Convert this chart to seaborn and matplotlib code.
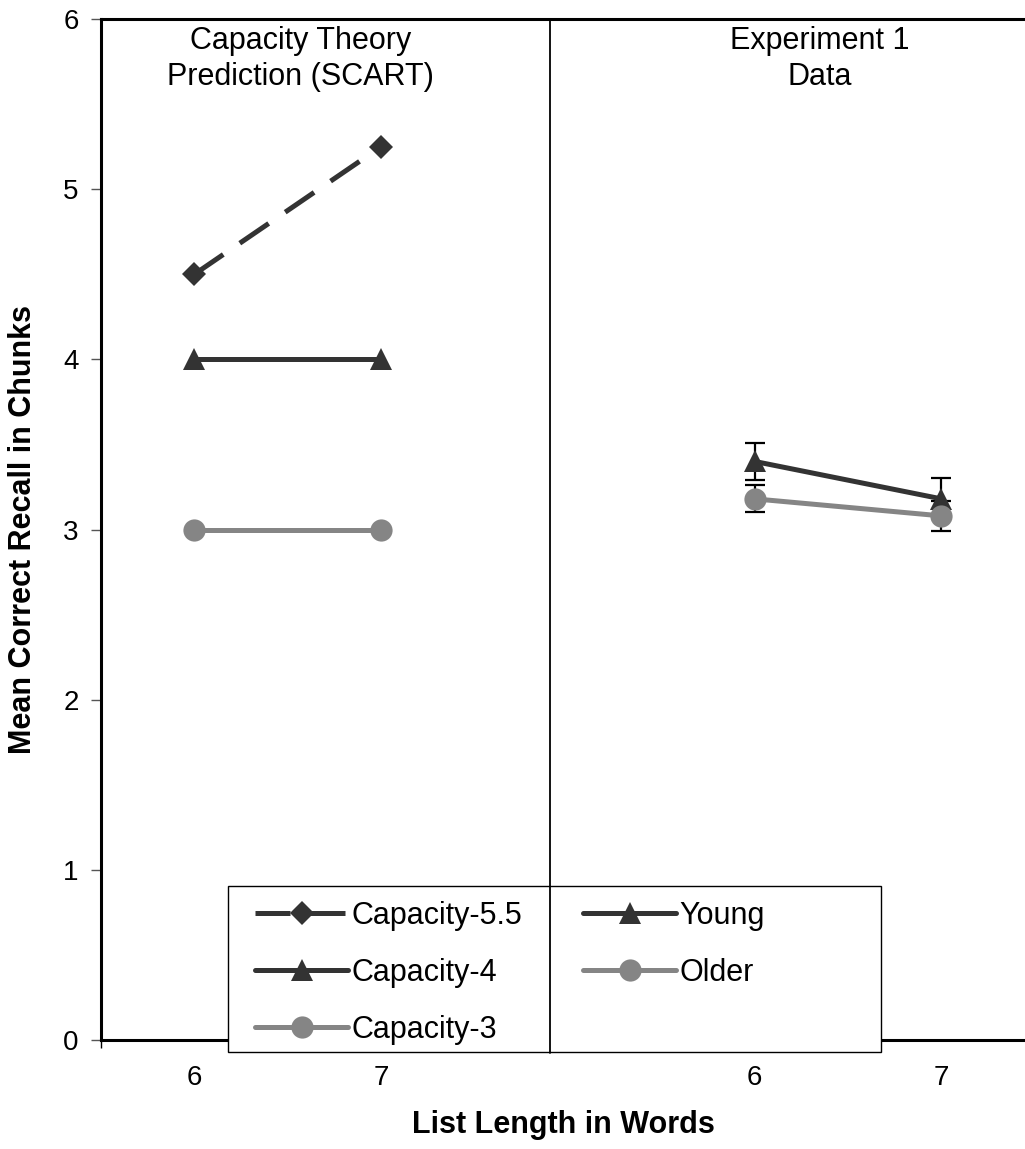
import matplotlib
matplotlib.use("Agg")
import matplotlib.pyplot as plt
from matplotlib.patches import Rectangle
import seaborn as sns
import pandas as pd

# ---- data ----
list_lengths = [6, 7]
cap55 = [4.5, 5.25]
cap4 = [4.0, 4.0]
cap3 = [3.0, 3.0]
young = [3.40, 3.18]
young_err = [0.11, 0.12]
older = [3.18, 3.08]
older_err = [0.08, 0.09]
panel_titles = ["Capacity Theory\nPrediction (SCART)", "Experiment 1\nData"]

# ---- layout (positions of the two panels on a shared axis) ----
left_pos = [1, 2]
right_pos = [4, 5]
divider = 2.906

sns.set_theme(style="white")
plt.rcParams["font.family"] = ["Liberation Sans", "DejaVu Sans"]
plt.rcParams["text.color"] = "black"
plt.rcParams["axes.labelcolor"] = "black"
plt.rcParams["xtick.color"] = "black"
plt.rcParams["ytick.color"] = "black"

W, H = 1025, 1149
fig = plt.figure(figsize=(W / 100, H / 100), dpi=100)
ax = fig.add_axes([101 / W, 1 - 1040 / H, 1 - 101 / W, 1021 / H])

dark = "#333333"
gray = "#858585"
lw = 3.6

df_left = pd.DataFrame({"x": left_pos, "c55": cap55, "c4": cap4, "c3": cap3})
df_right = pd.DataFrame({"x": right_pos, "young": young, "older": older,
                         "yerr": young_err, "oerr": older_err})

sns.lineplot(data=df_left, x="x", y="c55", ax=ax, color=dark, lw=lw,
             marker="D", markersize=12, markeredgewidth=0,
             label="Capacity-5.5", zorder=3)
ax.lines[-1].set_dashes((7, 4))
sns.lineplot(data=df_left, x="x", y="c4", ax=ax, color=dark, lw=lw,
             marker="^", markersize=16, markeredgewidth=0,
             label="Capacity-4", zorder=3)
sns.lineplot(data=df_left, x="x", y="c3", ax=ax, color=gray, lw=lw,
             marker="o", markersize=16, markeredgewidth=0,
             label="Capacity-3", zorder=3)

ax.errorbar(df_right["x"], df_right["young"], yerr=df_right["yerr"], fmt="none",
            ecolor="black", elinewidth=1.6, capsize=7, capthick=1.6, zorder=2)
ax.errorbar(df_right["x"], df_right["older"], yerr=df_right["oerr"], fmt="none",
            ecolor="black", elinewidth=1.6, capsize=7, capthick=1.6, zorder=2)
sns.lineplot(data=df_right, x="x", y="young", ax=ax, color=dark, lw=lw,
             marker="^", markersize=16, markeredgewidth=0,
             label="Young", zorder=3)
sns.lineplot(data=df_right, x="x", y="older", ax=ax, color=gray, lw=lw,
             marker="o", markersize=16, markeredgewidth=0,
             label="Older", zorder=3)

ax.set_xlim(0.5, 0.5 + 924 / 186.75)
ax.set_ylim(0, 6)

# spines
for s in ["left", "top", "bottom"]:
    ax.spines[s].set_visible(True)
    ax.spines[s].set_color("black")
    ax.spines[s].set_linewidth(2.2)
ax.spines["right"].set_visible(False)

# y ticks
ax.set_yticks(range(0, 7))
ax.set_yticklabels([str(v) for v in range(0, 7)])
ax.tick_params(axis="y", which="major", left=True, direction="out", length=7,
               width=1, color="#555555", labelsize=20, pad=9, labelcolor="black")

# x ticks
ax.set_xticks([0.5])
ax.set_xticklabels([""])
ax.tick_params(axis="x", which="major", bottom=True, direction="out", length=6,
               width=1, color="black")
ax.set_xticks(left_pos + right_pos, minor=True)
ax.set_xticklabels([str(v) for v in list_lengths + list_lengths], minor=True)
ax.tick_params(axis="x", which="minor", bottom=True, length=0, labelsize=20,
               pad=18, labelcolor="black")

ax.set_xlabel("List Length in Words", fontsize=22, fontweight="bold",
              labelpad=14, color="black")
ax.set_ylabel("Mean Correct Recall in Chunks", fontsize=22, fontweight="bold",
              labelpad=18, color="black")

# panel titles
ax.text(1.57, 5.96, panel_titles[0], ha="center", va="top", fontsize=22,
        linespacing=1.28, color="black")
ax.text(4.35, 5.96, panel_titles[1], ha="center", va="top", fontsize=22,
        linespacing=1.28, color="black")

# legend frame and legend
frame = Rectangle((228 / W, 1 - 1052 / H), (881 - 228) / W, (1052 - 886) / H,
                  transform=fig.transFigure, facecolor="white", edgecolor="black",
                  lw=1, zorder=4, clip_on=False)
ax.add_patch(frame)
leg = ax.legend(loc="upper left", bbox_to_anchor=(255 / W, 1 - 901 / H),
                bbox_transform=fig.transFigure, ncol=2, frameon=False,
                fontsize=22, handlelength=3.05, handletextpad=0.1,
                columnspacing=2.0, labelspacing=0.88, borderpad=0,
                borderaxespad=0, numpoints=1)
leg.set_zorder(5)
for t in leg.get_texts():
    t.set_color("black")

# divider between panels
ax.axvline(divider, ymin=-0.0127, ymax=1, color="black", lw=1.3, zorder=6,
           clip_on=False)

fig.savefig("out.png", dpi=100)
